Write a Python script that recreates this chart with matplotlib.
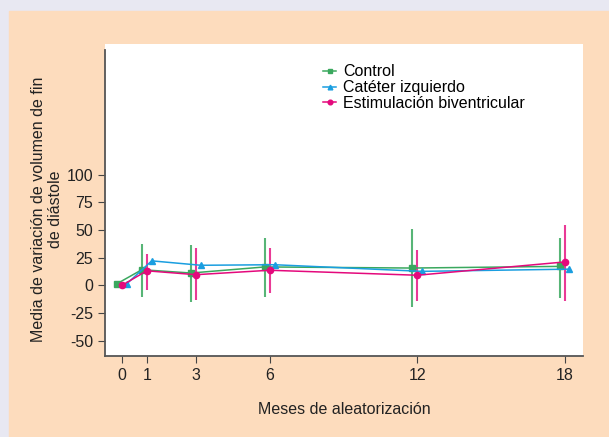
import matplotlib.pyplot as plt
from matplotlib.patches import Rectangle

plt.rcParams['font.family'] = ['Liberation Sans', 'DejaVu Sans']

meses = [0, 1, 3, 6, 12, 18]

control = [1.5, 14, 11, 16.5, 15.5, 17]
control_alto = [1.5, 37, 36, 43, 50.5, 43]
control_bajo = [1.5, -11, -15.5, -11, -20, -12]

cateter = [1.5, 22, 18, 18.5, 12.5, 14.5]

estim = [0, 13, 9.5, 13.5, 9, 21]
estim_alto = [0, 28.5, 33.5, 33.5, 31.5, 54]
estim_bajo = [0, -4.5, -13, -7.5, -14.5, -14]

verde = '#3aa85e'
azul = '#1a9ee0'
rosa = '#e4097c'
melocoton = '#fddcbd'

fig = plt.figure(figsize=(6.09, 4.37), dpi=100, facecolor='#e8e8f2')
fig.patches.append(Rectangle((9 / 609, 0), 1, (437 - 11) / 437,
                             transform=fig.transFigure, color=melocoton, zorder=-10))

ax = fig.add_axes([105 / 609, (437 - 356) / 437, (583 - 105) / 609, (356 - 44) / 437])
ax.set_facecolor('white')

def desplazar(xs, d):
    return [x + d for x in xs]

xc = desplazar(meses, -0.2)
xa = desplazar(meses, 0.2)
xe = meses

# error bars (no caps)
ax.vlines(xc[1:], control_bajo[1:], control_alto[1:], color=verde, lw=1.5, alpha=0.85)
ax.vlines(xe[1:], estim_bajo[1:], estim_alto[1:], color=rosa, lw=1.5, alpha=0.8)

ax.plot(xc, control, color=verde, lw=1.1, marker='s', ms=4, label='Control')
ax.plot(xa, cateter, color=azul, lw=1.1, marker='^', ms=4.5, label='Catéter izquierdo')
ax.plot(xe, estim, color=rosa, lw=1.1, marker='o', ms=4.5, label='Estimulación biventricular')

ax.set_xlim(-0.7, 18.75)
ax.set_ylim(-64, 218)
ax.set_xticks(meses)
ax.set_yticks([-50, -25, 0, 25, 50, 75, 100])
ax.set_yticklabels(['-50', '-25', '0', '25', '50', '75', '100'])
ax.tick_params(labelsize=11.5, length=5, color='#444444', labelcolor='#222222')

for s in ['top', 'right']:
    ax.spines[s].set_visible(False)
for s in ['left', 'bottom']:
    ax.spines[s].set_color('#555555')
    ax.spines[s].set_linewidth(1.3)
ax.spines['left'].set_bounds(-64, 213)

ax.set_xlabel('Meses de aleatorización', fontsize=11.5, labelpad=14, color='#222222')
ax.set_ylabel('Media de variación de volumen de fin\nde diástole', fontsize=11.5,
              color='#222222')
ax.yaxis.set_label_coords(-0.088, 0.47)

ax.legend(loc='upper left', bbox_to_anchor=(0.44, 0.96), frameon=False, fontsize=11.5,
          handlelength=0.8, markerscale=0.75, handletextpad=0.45, labelspacing=0.05,
          borderpad=0)

fig.savefig('out.png', dpi=100, facecolor=fig.get_facecolor())
